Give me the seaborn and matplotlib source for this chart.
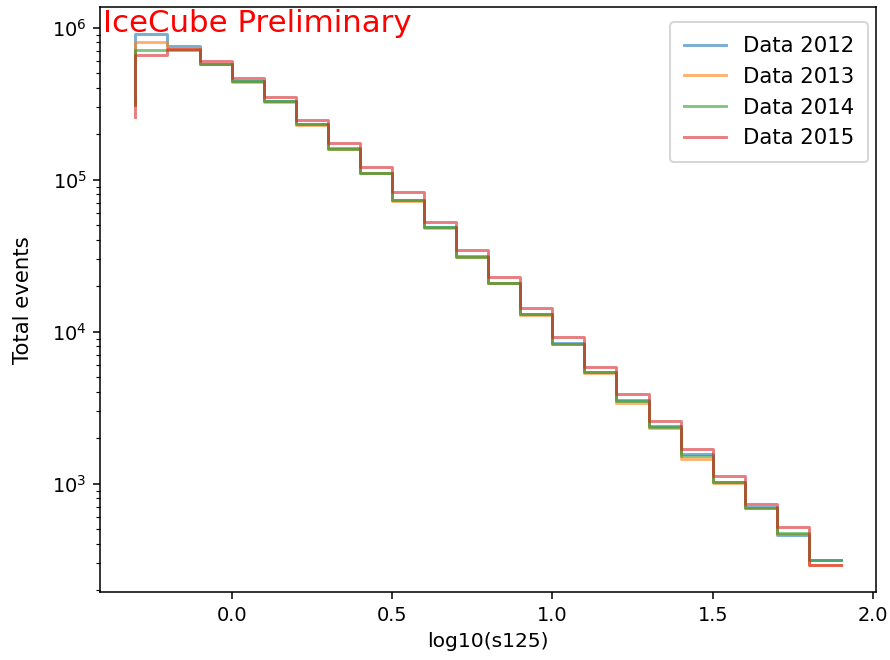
import matplotlib
matplotlib.use("Agg")
import matplotlib.pyplot as plt
import seaborn as sns
import pandas as pd

# bin edges of log10(s125)
bin_edges = [-0.3, -0.2, -0.1, 0.0, 0.1, 0.2, 0.3, 0.4, 0.5, 0.6, 0.7, 0.8,
             0.9, 1.0, 1.1, 1.2, 1.3, 1.4, 1.5, 1.6, 1.7, 1.8, 1.9]

# step values (first entry is the starting point at the left edge)
data_2012 = [3.2e5, 9.1e5, 7.6e5, 5.8e5, 4.45e5, 3.30e5, 2.32e5, 1.61e5, 1.11e5,
             7.4e4, 4.9e4, 3.15e4, 2.1e4, 1.31e4, 8.4e3, 5.45e3, 3.55e3, 2.38e3,
             1.58e3, 1.03e3, 700, 460, 313]
data_2013 = [3.1e5, 8.1e5, 7.2e5, 5.75e5, 4.40e5, 3.25e5, 2.29e5, 1.58e5, 1.10e5,
             7.25e4, 4.8e4, 3.1e4, 2.08e4, 1.29e4, 8.25e3, 5.35e3, 3.42e3, 2.33e3,
             1.46e3, 1.01e3, 690, 470, 290]
data_2014 = [3.1e5, 7.15e5, 7.1e5, 5.8e5, 4.45e5, 3.28e5, 2.31e5, 1.60e5, 1.11e5,
             7.3e4, 4.86e4, 3.12e4, 2.1e4, 1.30e4, 8.3e3, 5.4e3, 3.5e3, 2.36e3,
             1.53e3, 1.02e3, 695, 474, 313]
data_2015 = [2.6e5, 6.6e5, 7.2e5, 6.0e5, 4.65e5, 3.49e5, 2.45e5, 1.73e5, 1.21e5,
             8.3e4, 5.3e4, 3.47e4, 2.3e4, 1.43e4, 9.2e3, 5.9e3, 3.9e3, 2.58e3,
             1.68e3, 1.13e3, 738, 519, 290]

years = ["2012", "2013", "2014", "2015"]
series = [data_2012, data_2013, data_2014, data_2015]
colors = ["#1f77b4", "#ff7f0e", "#2ca02c", "#d62728"]

fig = plt.figure(figsize=(890 / 139, 660 / 139), dpi=139)
ax = fig.add_axes([0.1125, 0.103, 0.872, 0.886])

for year, vals, col in zip(years, series, colors):
    df = pd.DataFrame({"x": bin_edges, "y": vals})
    sns.lineplot(data=df, x="x", y="y", ax=ax, drawstyle="steps-pre",
                 color=col, alpha=0.6, linewidth=1.5, label=f"Data {year}")

ax.set_yscale("log")
ax.set_xlabel("log10(s125)", fontsize=10.5)
ax.set_ylabel("Total events", fontsize=11, labelpad=10)
ax.legend(loc="upper right", fontsize=11, bbox_to_anchor=(0.99, 0.974),
          borderaxespad=0, borderpad=0.65)
ax.text(-0.4, 9.3e5, "IceCube Preliminary", color="red", fontsize=16,
        va="baseline", ha="left")

fig.savefig("out.png", dpi=139)
